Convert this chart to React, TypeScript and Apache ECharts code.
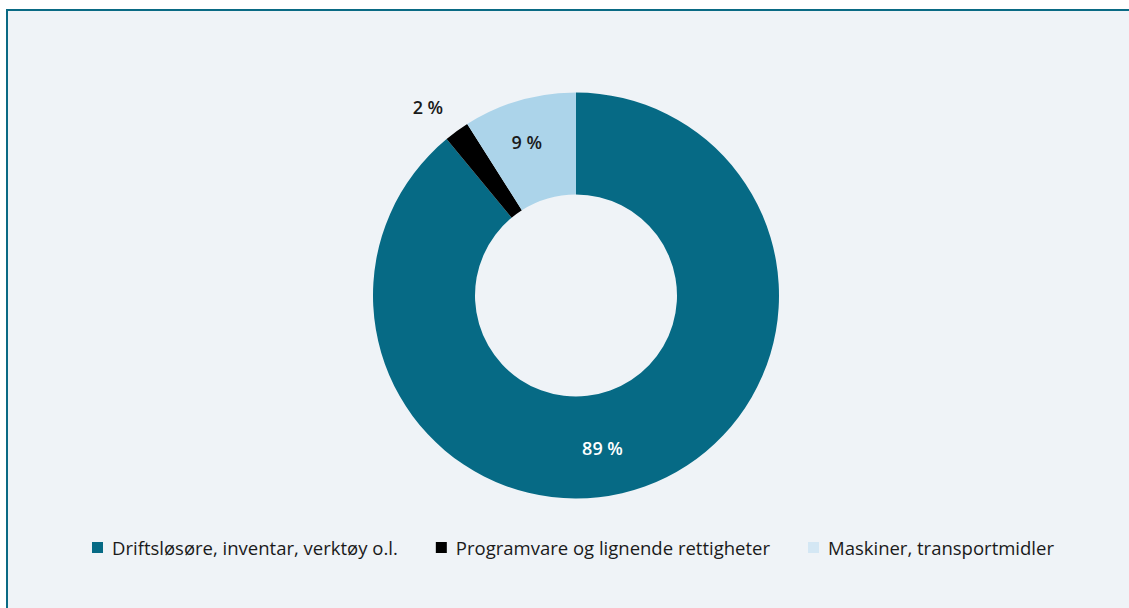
import React, { useEffect, useRef } from "react";
import * as echarts from "echarts";

const categories = [
  "Driftsløsøre, inventar, verktøy o.l.",
  "Programvare og lignende rettigheter",
  "Maskiner, transportmidler",
];
const values = [89, 2, 9];
const colors = ["#066a85", "#000000", "#acd4ea"];
const legendColors = ["#066a85", "#000000", "#d4e7f4"];
const labelColors = ["#ffffff", "#1a1a1a", "#1a1a1a"];
const labelOffsets: [number, number][] = [
  [-26, 7],
  [-57, -63],
  [-6, -5],
];

export default function App() {
  const ref = useRef<HTMLDivElement>(null);
  useEffect(() => {
    if (!ref.current) return;
    const chart = echarts.init(ref.current, null, { renderer: "svg" });
    chart.setOption({
      animation: false,
      textStyle: { fontFamily: "'Open Sans', 'Noto Sans', sans-serif" },
      legend: {
        top: 533,
        left: 87,
        itemWidth: 11,
        itemHeight: 11,
        itemGap: 38,
        icon: "rect",
        textStyle: {
          fontSize: 18.5,
          color: "#1a1a1a",
          padding: [0, 0, 0, 4],
          fontFamily: "'Open Sans', 'Noto Sans', sans-serif",
        },
        data: categories.map((c, i) => ({
          name: c,
          itemStyle: { color: legendColors[i] },
        })),
      },
      series: [
        {
          type: "pie",
          center: [576, 295.5],
          radius: [101, 203],
          startAngle: 90,
          clockwise: true,
          avoidLabelOverlap: false,
          labelLine: { show: false },
          emphasis: { disabled: true },
          data: categories.map((c, i) => ({
            name: c,
            value: values[i],
            itemStyle: { color: colors[i] },
            label: {
              show: true,
              position: "inside",
              formatter: "{c} %",
              color: labelColors[i],
              fontSize: 18,
              fontWeight: 600,
              offset: labelOffsets[i],
              fontFamily: "'Open Sans', 'Noto Sans', sans-serif",
            },
          })),
        },
      ],
    });
    return () => chart.dispose();
  }, []);

  return (
    <div
      style={{
        position: "absolute",
        left: 0,
        top: 0,
        width: 1129,
        height: 608,
        background: "#ffffff",
        overflow: "hidden",
      }}
    >
      <div
        style={{
          position: "absolute",
          left: 6,
          top: 9,
          width: 1200,
          height: 700,
          background: "#eff3f7",
          borderTop: "2px solid #0a6a84",
          borderLeft: "2px solid #0a6a84",
        }}
      />
      <div
        ref={ref}
        style={{ position: "absolute", left: 0, top: 0, width: 1129, height: 608 }}
      />
    </div>
  );
}
